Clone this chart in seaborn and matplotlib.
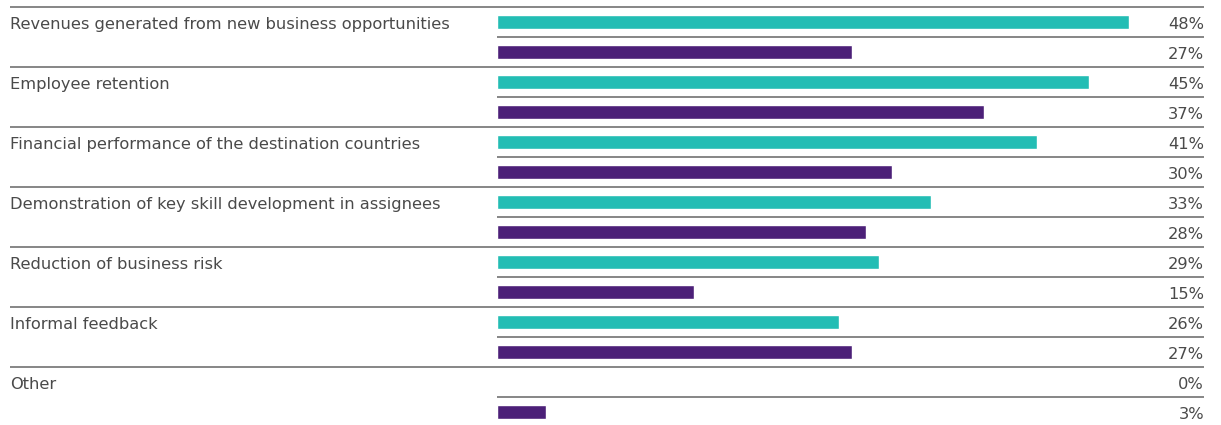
import matplotlib
matplotlib.use("Agg")
import matplotlib.pyplot as plt
import matplotlib.transforms as mtransforms
import seaborn as sns
import pandas as pd

categories = [
    "Revenues generated from new business opportunities",
    "Employee retention",
    "Financial performance of the destination countries",
    "Demonstration of key skill development in assignees",
    "Reduction of business risk",
    "Informal feedback",
    "Other",
]
series_names = ["Series A", "Series B"]
values_a = [48, 45, 41, 33, 29, 26, 0]
values_b = [27, 37, 30, 28, 15, 27, 3.7]
labels_a = ["48%", "45%", "41%", "33%", "29%", "26%", "0%"]
labels_b = ["27%", "37%", "30%", "28%", "15%", "27%", "3%"]
colors = {"Series A": "#23BDB4", "Series B": "#4C2078"}

rows = []
for i, c in enumerate(categories):
    rows.append({"row": f"{i}a", "value": values_a[i], "series": series_names[0], "label": labels_a[i]})
    rows.append({"row": f"{i}b", "value": values_b[i], "series": series_names[1], "label": labels_b[i]})
df = pd.DataFrame(rows)

sns.set_theme(style="white")
plt.rcParams["font.family"] = ["DejaVu Sans"]

W, H = 1221, 425
fig = plt.figure(figsize=(W / 100, H / 100), dpi=100)
x0, x1 = 497, 1204
y_top, y_bot = 7, 7 + 30 * 14
ax = fig.add_axes([x0 / W, (H - y_bot) / H, (x1 - x0) / W, (y_bot - y_top) / H])

sns.barplot(data=df, y="row", x="value", hue="series", palette=colors,
            dodge=False, width=0.44, orient="h", ax=ax, legend=False,
            saturation=1, order=list(df["row"]))
ax.set_xlim(0, 53.7)
ax.set_ylim(13.5, -0.5)
for s in ax.spines.values():
    s.set_visible(False)
ax.set_xticks([])
ax.set_yticks([])
ax.set_xlabel("")
ax.set_ylabel("")

txt_color = "#4a4a4a"
fs = 11.7
left_ax = (10 - x0) / (x1 - x0)
trans = mtransforms.blended_transform_factory(ax.transAxes, ax.transData)
n = len(df)
for j in range(n):
    yline = j - 0.5
    xs = left_ax if j % 2 == 0 else 0
    ax.plot([xs, 1], [yline, yline], transform=trans, color="#666666",
            lw=1.1, clip_on=False, solid_capstyle="butt")
    ax.text(1.0, j + 0.22, df["label"].iloc[j], transform=trans, ha="right",
            va="baseline", fontsize=fs, color=txt_color)

for i, c in enumerate(categories):
    ax.text(left_ax, 2 * i + 0.22, c, transform=trans, ha="left", va="baseline",
            fontsize=fs, color=txt_color)

fig.savefig("out.png", dpi=100)
